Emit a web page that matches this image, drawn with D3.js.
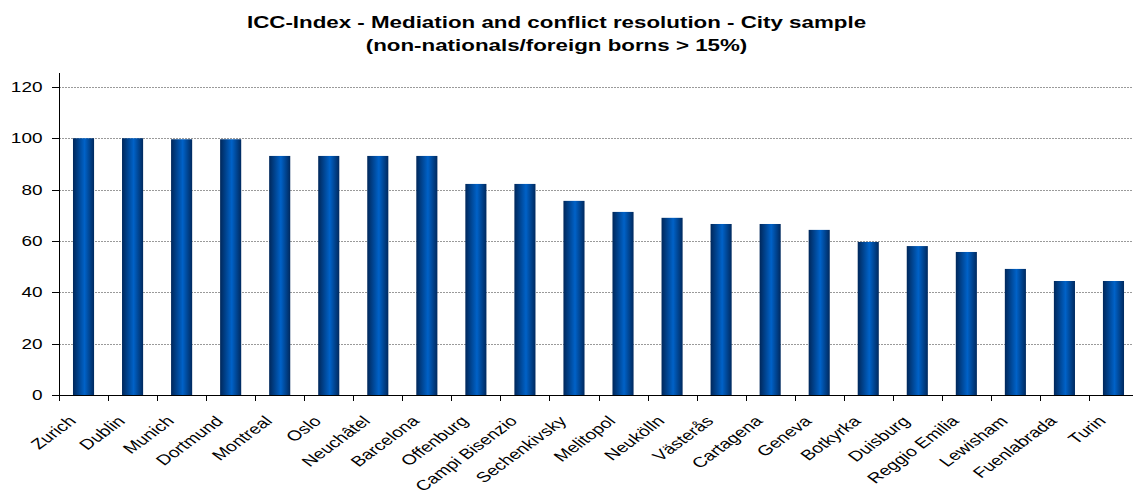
<!DOCTYPE html>
<html>
<head>
<meta charset="utf-8">
<script src="https://cdn.jsdelivr.net/npm/d3@7/dist/d3.min.js"></script>
<style>
  html, body { margin: 0; padding: 0; background: #fff; }
  svg { display: block; font-family: "Liberation Sans", Arial, sans-serif; }
</style>
</head>
<body>
<svg id="chart" width="1133" height="496"></svg>
<script>
// City scores for the mediation and conflict resolution index
const cities = ["Zurich", "Dublin", "Munich", "Dortmund", "Montreal", "Oslo", "Neuchâtel",
  "Barcelona", "Offenburg", "Campi Bisenzio", "Sechenkivsky", "Melitopol", "Neukölln",
  "Västerås", "Cartagena", "Geneva", "Botkyrka", "Duisburg", "Reggio Emilia", "Lewisham",
  "Fuenlabrada", "Turin"];
const scores = [100, 100, 99.6, 99.6, 93.1, 93.1, 93.1, 93.1, 82.2, 82.2, 75.6, 71.3, 69.0,
  66.6, 66.6, 64.3, 59.6, 58.0, 55.7, 49.1, 44.4, 44.4];
const yTicks = [0, 20, 40, 60, 80, 100, 120];
const titleLines = ["ICC-Index - Mediation and conflict resolution - City sample",
  "(non-nationals/foreign borns > 15%)"];

const svg = d3.select("#chart");
const plotLeft = 59, plotRight = 1138, plotTop = 73, plotBottom = 395;
const widthEdge = 1133;
// text is drawn wide: the whole chart is laid out stretched horizontally
const sx = 1.355;

const x = d3.scaleBand().domain(cities).range([plotLeft, plotRight]).paddingInner(0.57).paddingOuter(0.285);
const y = d3.scaleLinear().domain([0, 125.4]).range([plotBottom, plotTop]);

// bar shading
const defs = svg.append("defs");
const grad = defs.append("linearGradient").attr("id", "barShade")
  .attr("x1", "0%").attr("x2", "100%").attr("y1", "0%").attr("y2", "0%");
grad.append("stop").attr("offset", "0%").attr("stop-color", "#00275a");
grad.append("stop").attr("offset", "55%").attr("stop-color", "#0062c8");
grad.append("stop").attr("offset", "100%").attr("stop-color", "#00295e");

// horizontal gridlines
svg.append("g").selectAll("line").data(yTicks.filter(d => d > 0)).join("line")
  .attr("x1", plotLeft).attr("x2", widthEdge)
  .attr("y1", d => Math.round(y(d)) + 0.5).attr("y2", d => Math.round(y(d)) + 0.5)
  .attr("stroke", "#9a9a9a").attr("stroke-width", 1).attr("stroke-dasharray", "2,1");

// bars
svg.append("g").selectAll("rect").data(cities).join("rect")
  .attr("x", d => x(d))
  .attr("width", x.bandwidth())
  .attr("y", (d, i) => y(scores[i]))
  .attr("height", (d, i) => plotBottom - y(scores[i]))
  .attr("fill", "url(#barShade)");

// y axis
const yg = svg.append("g");
yg.append("line").attr("x1", plotLeft + 0.5).attr("x2", plotLeft + 0.5)
  .attr("y1", plotTop).attr("y2", plotBottom).attr("stroke", "#000");
yg.selectAll("line.tk").data(yTicks).join("line").attr("class", "tk")
  .attr("x1", plotLeft - 7).attr("x2", plotLeft)
  .attr("y1", d => Math.round(y(d)) + 0.5).attr("y2", d => Math.round(y(d)) + 0.5)
  .attr("stroke", "#000");
yg.selectAll("text").data(yTicks).join("text")
  .attr("transform", d => `translate(${plotLeft - 16.5},${y(d)}) scale(${sx},1)`)
  .attr("text-anchor", "end").attr("dy", "0.36em")
  .style("font-size", "14px").attr("fill", "#000")
  .text(d => d);

// x axis with category boundary ticks
const xg = svg.append("g");
xg.append("line").attr("x1", plotLeft).attr("x2", widthEdge)
  .attr("y1", plotBottom + 0.5).attr("y2", plotBottom + 0.5).attr("stroke", "#000");
const step = x.step();
xg.selectAll("line.tk").data(d3.range(cities.length + 1)).join("line").attr("class", "tk")
  .attr("x1", i => Math.round(plotLeft + i * step) + 0.5).attr("x2", i => Math.round(plotLeft + i * step) + 0.5)
  .attr("y1", plotBottom).attr("y2", plotBottom + 6).attr("stroke", "#000");
xg.selectAll("text").data(cities).join("text")
  .attr("transform", d => `translate(${x(d) + x.bandwidth() / 2 - 6.5},${plotBottom + 27}) scale(${sx},1) rotate(-45)`)
  .attr("text-anchor", "end")
  .style("font-size", "14.3px")
  .attr("fill", "#000")
  .text(d => d);

// title
svg.append("g").selectAll("text").data(titleLines).join("text")
  .attr("transform", (d, i) => `translate(556.5,${27.5 + i * 23.5}) scale(${sx},1)`)
  .attr("text-anchor", "middle")
  .style("font-size", "16.5px").style("font-weight", "bold")
  .attr("fill", "#000")
  .text(d => d);
</script>
</body>
</html>
